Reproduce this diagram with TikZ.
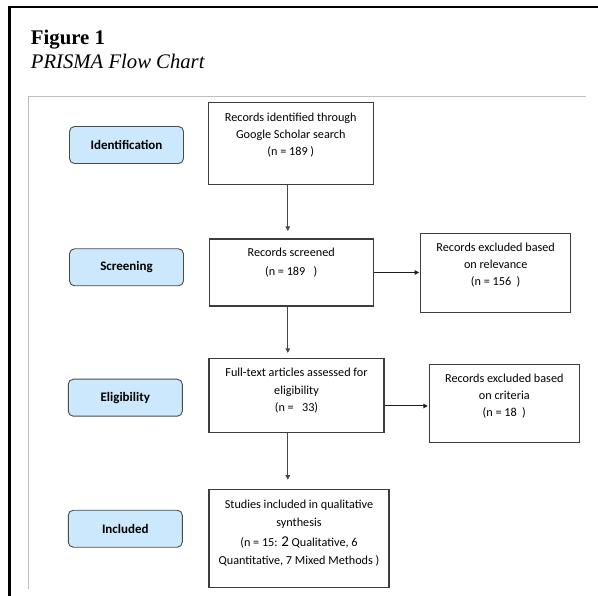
\documentclass[tikz,border=0pt]{standalone}
\usepackage{fontspec}
\setmainfont{Carlito}
\newfontfamily\titlefont{Liberation Serif}
\usetikzlibrary{arrows.meta,calc}
\definecolor{phaseblue}{HTML}{CCE8FC}
\definecolor{phaseedge}{HTML}{4A4A4A}
\definecolor{boxedge}{HTML}{3C3C3C}
\definecolor{panelgray}{HTML}{BEBEBE}
\tikzset{
  phase/.style={draw=phaseedge, line width=0.9pt, fill=phaseblue, rounded corners=5pt,
    minimum width=114pt, minimum height=37pt, inner sep=0pt,
    font=\fontsize{13}{15}\selectfont\bfseries},
  wbox/.style={draw=boxedge, line width=1.1pt, fill=white, inner sep=0pt},
  btext/.style={align=center, inner sep=0pt, font=\fontsize{12.2}{17}\selectfont},
  conn/.style={line width=0.9pt, draw=black!72, -{Triangle[length=4.5pt,width=4.5pt]}},
  hconn/.style={line width=1pt, draw=black!88, -{Triangle[length=4.5pt,width=4.5pt]}},
}
\begin{document}
\begin{tikzpicture}[x=1pt,y=-1pt]
\useasboundingbox (0,0) rectangle (598,596);
% outer frame
\draw[line width=2.5pt] (9.3,600) -- (9.3,7) -- (602,7);
% inner panel edges
\draw[panelgray, line width=1pt] (28.3,589) -- (28.3,96.8) -- (586,96.8);
% title
\node[anchor=base west, inner sep=0pt, font=\titlefont\fontsize{20.8}{24}\selectfont\bfseries] (fig) at (30.7,44.3) {Figure 1};
\node[anchor=base west, inner sep=0pt, font=\titlefont\fontsize{20.7}{24}\selectfont\itshape] (cap) at (30.7,68.3) {PRISMA Flow Chart};

% phase labels
\node[phase] (pid) at (126.5,145) {Identification};
\node[phase] (pscr) at (126.5,267.3) {Screening};
\node[phase] (pel) at (125.3,397.7) {Eligibility};
\node[phase] (pin) at (125.3,528.7) {Included};

% boxes
\node[wbox, minimum width=165pt, minimum height=82pt] (id) at (290.8,143.3) {};
\node[btext] (idt) at (290.8,135) {Records identified through\\Google Scholar search\\(n = 189 )};

\node[wbox, minimum width=164pt, minimum height=67pt] (scr) at (291.2,272.5) {};
\node[btext, font=\fontsize{12.2}{18.4}\selectfont] (scrt) at (291.2,262.5) {Records screened\\(n = 189\ \ \ )};

\node[wbox, minimum width=150pt, minimum height=79pt] (rel) at (495.7,272.8) {};
\node[btext] (relt) at (495.7,265.3) {Records excluded based\\on relevance\\(n = 156\ \ )};

\node[wbox, minimum width=175pt, minimum height=73.7pt] (ful) at (296.5,395.8) {};
\node[btext, font=\fontsize{12.2}{17.5}\selectfont] (fult) at (296.5,390.8) {Full-text articles assessed for\\eligibility\\(n =\ \ \ 33)};

\node[wbox, minimum width=150pt, minimum height=78pt] (cri) at (504.3,403.3) {};
\node[btext] (crit) at (504.3,396.5) {Records excluded based\\on criteria\\(n = 18\ \ )};

\node[wbox, minimum width=180pt, minimum height=98pt] (stu) at (299,538.3) {};
\node[btext, font=\fontsize{12.2}{17.6}\selectfont] (stut) at (299,533) {Studies included in qualitative\\synthesis\\[2.5pt](n = 15: {\fontsize{15}{17}\selectfont 2} Qualitative, 6\\Quantitative, 7 Mixed Methods )};

% connectors
\coordinate (col) at (287.8,0);
\coordinate (h2) at (0,406);
\draw[conn, shorten >=7.5pt] (id.south -| col) -- (scr.north -| col);
\draw[conn, shorten >=5.5pt] (scr.south -| col) -- (ful.north -| col);
\draw[conn, shorten >=9pt] (ful.south -| col) -- (stu.north -| col);
\draw[hconn, shorten >=1pt] (scr.east) -- (rel.west |- scr.east);
\draw[hconn, shorten >=1pt] (ful.east |- h2) -- (cri.west |- h2);
\end{tikzpicture}
\end{document}
